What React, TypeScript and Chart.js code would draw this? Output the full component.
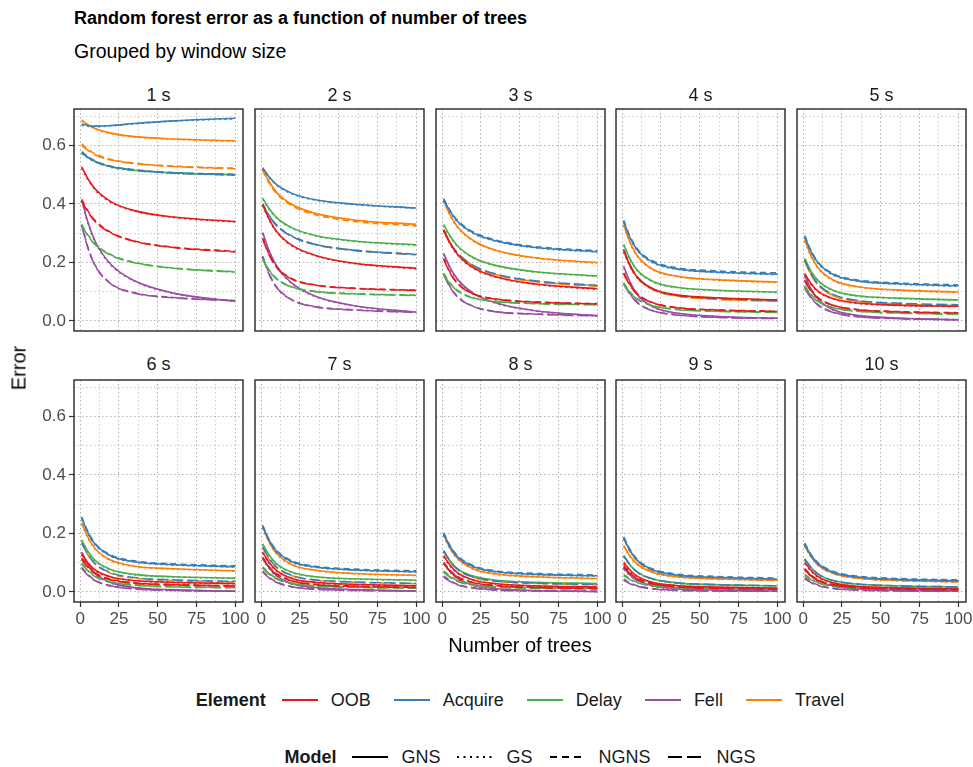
import React, { useEffect, useRef } from "react";
import { Chart, registerables } from "chart.js";

Chart.register(...registerables);

const FONT = '"Liberation Sans", Arial, Helvetica, sans-serif';

// ---------- data ----------
const treeCounts = [1, 5, 10, 20, 35, 60, 100];
const windowLabels = ["1 s", "2 s", "3 s", "4 s", "5 s", "6 s", "7 s", "8 s", "9 s", "10 s"];
const elements = ["OOB", "Acquire", "Delay", "Fell", "Travel"];
const elementColors = ["#E41A1C", "#377EB8", "#4DAF4A", "#984EA3", "#FF7F00"];
const models = ["GNS", "GS", "NGNS", "NGS"];
const yTicks = [0, 0.1, 0.2, 0.3, 0.4, 0.5, 0.6, 0.7];
const xTicks = [0, 12.5, 25, 37.5, 50, 62.5, 75, 87.5, 100];

// each window: OOB(GNS,GS,NGNS,NGS), Acquire(...), Delay(...), Fell(...), Travel(...)
const w1 = [
  [.527,.486,.449,.407,.377,.355,.340], [.522,.483,.446,.405,.376,.354,.338], [.415,.376,.341,.302,.273,.252,.238], [.410,.372,.338,.300,.272,.251,.236],
  [.673,.668,.666,.668,.675,.684,.693], [.668,.665,.664,.667,.674,.683,.691], [.579,.562,.546,.529,.517,.507,.501], [.575,.559,.544,.527,.515,.506,.499],
  [.576,.559,.544,.527,.515,.506,.500], [.572,.556,.542,.525,.514,.505,.498], [.329,.294,.261,.226,.200,.181,.168], [.325,.291,.259,.224,.199,.180,.167],
  [.415,.338,.269,.192,.137,.095,.067], [.410,.334,.266,.190,.136,.094,.066], [.330,.252,.187,.127,.096,.080,.070], [.326,.249,.185,.126,.095,.079,.069],
  [.687,.671,.657,.642,.630,.622,.616], [.684,.669,.655,.640,.629,.621,.614], [.605,.587,.570,.552,.539,.529,.522], [.600,.583,.567,.550,.538,.528,.520],
];
const w2 = [
  [.398,.350,.306,.258,.224,.197,.180], [.394,.347,.304,.256,.223,.196,.178], [.283,.230,.185,.144,.123,.112,.105], [.279,.227,.183,.142,.122,.111,.104],
  [.524,.494,.466,.436,.414,.399,.386], [.520,.491,.464,.434,.413,.398,.385], [.400,.362,.328,.290,.262,.242,.228], [.396,.359,.326,.288,.261,.241,.227],
  [.420,.385,.353,.318,.292,.273,.260], [.416,.382,.351,.316,.291,.272,.258], [.214,.176,.145,.116,.101,.093,.088], [.210,.173,.143,.115,.100,.092,.087],
  [.302,.242,.188,.128,.084,.052,.030], [.298,.239,.186,.127,.083,.051,.029], [.222,.164,.116,.072,.049,.038,.030], [.218,.161,.114,.071,.048,.037,.029],
  [.520,.478,.440,.398,.368,.345,.330], [.516,.475,.438,.396,.367,.344,.328], [.515,.473,.435,.393,.363,.340,.325], [.398,.360,.326,.288,.261,.241,.226],
];
const w3 = [
  [.311,.267,.227,.182,.150,.126,.110], [.307,.264,.225,.180,.149,.125,.108], [.214,.168,.129,.093,.075,.065,.059], [.210,.165,.127,.092,.074,.064,.058],
  [.415,.376,.340,.301,.273,.251,.237], [.411,.373,.338,.299,.272,.250,.235], [.418,.379,.343,.304,.276,.254,.240], [.311,.269,.232,.190,.160,.137,.122],
  [.329,.291,.256,.217,.189,.168,.154], [.325,.288,.254,.215,.188,.167,.152], [.162,.130,.104,.079,.067,.060,.056], [.158,.127,.102,.078,.066,.059,.055],
  [.231,.184,.142,.095,.061,.035,.018], [.227,.181,.140,.094,.060,.034,.017], [.162,.119,.083,.050,.032,.024,.018], [.158,.116,.081,.049,.031,.023,.017],
  [.410,.364,.321,.275,.241,.216,.199], [.406,.361,.319,.273,.240,.215,.197], [.311,.269,.231,.189,.158,.135,.120], [.307,.266,.229,.187,.157,.134,.118],
];
const w4 = [
  [.240,.190,.148,.109,.089,.079,.072], [.236,.187,.146,.108,.088,.078,.071], [.164,.125,.092,.062,.046,.038,.033], [.160,.122,.090,.061,.045,.037,.032],
  [.340,.286,.241,.200,.178,.167,.160], [.336,.283,.239,.198,.177,.166,.158], [.344,.290,.245,.204,.182,.171,.164], [.245,.193,.149,.109,.088,.077,.070],
  [.262,.213,.172,.135,.115,.105,.099], [.258,.210,.170,.133,.114,.104,.097], [.130,.100,.075,.052,.040,.034,.030], [.126,.097,.073,.051,.039,.033,.029],
  [.187,.134,.089,.048,.027,.016,.009], [.183,.131,.087,.047,.026,.015,.008], [.130,.094,.063,.035,.021,.013,.009], [.126,.091,.061,.034,.020,.012,.008],
  [.329,.270,.221,.176,.153,.141,.133], [.325,.267,.219,.174,.152,.140,.131], [.245,.192,.148,.107,.086,.075,.068], [.241,.189,.146,.106,.085,.074,.067],
];
const w5 = [
  [.162,.128,.100,.075,.061,.054,.050], [.158,.125,.098,.074,.060,.053,.049], [.140,.106,.078,.053,.039,.032,.028], [.136,.103,.076,.052,.038,.031,.027],
  [.289,.238,.196,.157,.137,.127,.120], [.285,.235,.194,.155,.136,.126,.118], [.292,.241,.199,.160,.140,.130,.123], [.208,.162,.124,.089,.070,.061,.055],
  [.214,.171,.136,.103,.086,.078,.072], [.210,.168,.134,.102,.085,.077,.071], [.120,.091,.067,.045,.034,.028,.024], [.116,.088,.065,.044,.033,.027,.023],
  [.156,.110,.072,.037,.019,.010,.004], [.152,.107,.070,.036,.018,.009,.004], [.116,.082,.054,.029,.015,.008,.004], [.112,.079,.052,.028,.014,.008,.004],
  [.277,.224,.179,.138,.117,.106,.099], [.273,.221,.177,.136,.116,.105,.097], [.208,.161,.122,.086,.068,.058,.052], [.204,.158,.120,.085,.067,.057,.051],
];
const w6 = [
  [.130,.100,.074,.051,.039,.033,.029], [.126,.097,.072,.050,.038,.032,.028], [.116,.088,.064,.043,.031,.025,.021], [.112,.084,.061,.041,.030,.024,.020],
  [.253,.203,.161,.123,.103,.093,.086], [.249,.200,.159,.121,.102,.092,.085], [.256,.206,.164,.126,.106,.096,.089], [.167,.128,.095,.065,.049,.041,.036],
  [.178,.139,.106,.076,.060,.052,.047], [.174,.136,.104,.075,.059,.051,.046], [.100,.075,.053,.034,.024,.018,.015], [.096,.072,.051,.033,.023,.017,.014],
  [.136,.096,.062,.031,.015,.007,.002], [.132,.093,.060,.030,.014,.006,.002], [.084,.060,.039,.021,.011,.006,.003], [.080,.057,.037,.020,.010,.005,.003],
  [.236,.187,.146,.108,.088,.079,.072], [.232,.184,.144,.106,.087,.078,.071], [.167,.127,.094,.063,.047,.039,.034], [.114,.086,.062,.041,.029,.024,.020],
];
const w7 = [
  [.136,.102,.073,.046,.033,.026,.021], [.132,.099,.071,.045,.032,.025,.020], [.118,.087,.062,.038,.026,.020,.016], [.114,.084,.060,.037,.025,.019,.015],
  [.225,.178,.139,.103,.085,.075,.069], [.221,.175,.137,.101,.084,.074,.068], [.228,.181,.142,.106,.088,.078,.072], [.153,.116,.085,.056,.041,.034,.029],
  [.164,.127,.096,.067,.052,.045,.040], [.160,.124,.094,.066,.051,.044,.039], [.086,.065,.047,.030,.021,.017,.014], [.082,.061,.044,.028,.020,.016,.013],
  [.118,.084,.055,.028,.015,.008,.003], [.114,.081,.053,.027,.014,.007,.003], [.072,.051,.034,.018,.010,.006,.003], [.068,.048,.032,.017,.009,.005,.003],
  [.222,.173,.131,.093,.074,.063,.057], [.218,.170,.129,.092,.073,.062,.056], [.150,.113,.083,.055,.040,.033,.028], [.084,.063,.045,.029,.020,.016,.013],
];
const w8 = [
  [.124,.092,.065,.041,.028,.021,.017], [.120,.089,.063,.040,.027,.020,.016], [.100,.074,.052,.032,.022,.016,.013], [.096,.071,.050,.031,.021,.015,.012],
  [.199,.156,.120,.087,.069,.060,.055], [.195,.153,.118,.085,.068,.059,.054], [.202,.159,.123,.090,.072,.063,.058], [.141,.106,.077,.051,.037,.030,.025],
  [.141,.107,.079,.054,.040,.033,.029], [.137,.104,.077,.053,.039,.032,.028], [.072,.054,.039,.025,.018,.014,.012], [.068,.050,.036,.023,.016,.012,.010],
  [.101,.071,.046,.023,.011,.005,.001], [.097,.068,.044,.022,.010,.004,.001], [.055,.039,.026,.014,.007,.004,.002], [.051,.036,.024,.013,.006,.003,.002],
  [.196,.151,.114,.079,.061,.052,.046], [.192,.148,.112,.078,.060,.051,.045], [.138,.104,.076,.050,.036,.029,.024], [.070,.052,.038,.024,.017,.013,.011],
];
const w9 = [
  [.101,.075,.053,.032,.022,.017,.013], [.097,.072,.051,.031,.021,.016,.012], [.090,.066,.046,.028,.018,.013,.010], [.086,.063,.044,.027,.017,.012,.009],
  [.185,.143,.107,.075,.058,.050,.044], [.181,.140,.105,.073,.057,.049,.043], [.188,.146,.110,.078,.061,.053,.047], [.124,.093,.067,.044,.031,.025,.021],
  [.124,.093,.067,.044,.031,.025,.021], [.120,.090,.065,.043,.030,.024,.020], [.060,.045,.033,.021,.015,.012,.010], [.056,.042,.031,.020,.014,.011,.009],
  [.082,.058,.039,.020,.011,.006,.003], [.078,.055,.037,.019,.010,.005,.003], [.044,.031,.021,.011,.006,.004,.002], [.040,.028,.019,.010,.005,.003,.002],
  [.159,.123,.094,.066,.052,.045,.040], [.155,.120,.092,.065,.051,.044,.039], [.182,.139,.104,.071,.054,.046,.040], [.082,.060,.042,.026,.017,.013,.010],
];
const w10 = [
  [.101,.074,.051,.030,.019,.014,.010], [.097,.071,.049,.029,.018,.013,.009], [.080,.058,.040,.024,.015,.011,.008], [.076,.055,.038,.023,.014,.010,.007],
  [.164,.126,.095,.066,.051,.043,.038], [.160,.123,.093,.065,.050,.042,.037], [.167,.129,.098,.069,.054,.046,.041], [.113,.084,.060,.038,.027,.021,.017],
  [.113,.084,.060,.038,.027,.021,.017], [.109,.081,.058,.037,.026,.020,.016], [.060,.045,.032,.020,.014,.011,.009], [.056,.042,.030,.019,.013,.010,.008],
  [.078,.056,.037,.020,.011,.006,.003], [.074,.053,.035,.019,.010,.005,.003], [.049,.035,.023,.012,.007,.004,.002], [.045,.032,.021,.011,.006,.003,.002],
  [.160,.123,.091,.063,.048,.040,.035], [.156,.120,.089,.062,.047,.039,.034], [.158,.121,.090,.062,.047,.039,.034], [.075,.056,.039,.024,.017,.013,.010],
];
const windows = [w1, w2, w3, w4, w5, w6, w7, w8, w9, w10];

// ---------- styling ----------
const modelDash: number[][] = [[], [2, 3.5], [6, 4], [11, 4]];
const legendDash = ["", "2 4.5", "7 5", "14 5"];
const PANEL_LEFTS = [74, 255, 436, 616, 797];
const PANEL_TOPS = [109, 380];
const PW = 169;
const PH = 222;

const boxPlugin = {
  id: "panelBox",
  afterDatasetsDraw(chart: any) {
    const { ctx, chartArea: a } = chart;
    ctx.save();
    ctx.strokeStyle = "#262626";
    ctx.lineWidth = 1.4;
    ctx.strokeRect(a.left, a.top, a.right - a.left, a.bottom - a.top);
    ctx.restore();
  },
};

function Panel({ index }: { index: number }) {
  const ref = useRef<HTMLCanvasElement | null>(null);
  const col = index % 5;
  const row = Math.floor(index / 5);
  const lp = col === 0 ? 62 : 8;
  const rp = 14;
  const tp = 14;
  const bp = row === 1 ? 36 : 14;
  const cw = lp + PW + rp;
  const ch = tp + PH + bp;

  useEffect(() => {
    const data = windows[index];
    const datasets: any[] = [];
    elements.forEach((el, e) => {
      models.forEach((m, k) => {
        const vals = data[e * 4 + k];
        datasets.push({
          label: el + " " + m,
          data: treeCounts.map((x, i) => ({ x, y: vals[i] })),
          borderColor: elementColors[e],
          borderWidth: 1.6,
          borderDash: modelDash[k],
          pointRadius: 0,
          cubicInterpolationMode: "monotone",
          fill: false,
        });
      });
    });
    const gridColor = (c: any) => (c.index % 2 === 0 ? "#b0b0b0" : "#cccccc");
    const tickColor = (c: any) => (c.index % 2 === 0 ? "#333333" : "rgba(0,0,0,0)");
    const chart = new Chart(ref.current as HTMLCanvasElement, {
      type: "line",
      data: { datasets },
      options: {
        animation: false,
        responsive: false,
        devicePixelRatio: 1,
        layout: { padding: { left: 0, right: rp, top: tp, bottom: 0 } },
        plugins: { legend: { display: false }, tooltip: { enabled: false } },
        scales: {
          x: {
            type: "linear",
            min: -3.95,
            max: 104.95,
            afterBuildTicks: (s: any) => {
              s.ticks = xTicks.map((v) => ({ value: v }));
            },
            afterFit: (s: any) => {
              s.height = bp;
            },
            grid: { color: gridColor, lineWidth: 1, drawTicks: row === 1, tickLength: 5, tickColor, tickWidth: 1.2 },
            border: { display: false, dash: [1.5, 2.5] },
            ticks: {
              display: row === 1,
              autoSkip: false,
              maxRotation: 0,
              padding: 2,
              color: "#4d4d4d",
              font: { family: FONT, size: 17 },
              callback: (_v: any, i: number) => (i % 2 === 0 ? String(xTicks[i]) : ""),
            },
          },
          y: {
            type: "linear",
            min: -0.0345,
            max: 0.7245,
            afterBuildTicks: (s: any) => {
              s.ticks = yTicks.map((v) => ({ value: v }));
            },
            afterFit: (s: any) => {
              s.width = lp;
            },
            grid: { color: gridColor, lineWidth: 1, drawTicks: col === 0, tickLength: 5, tickColor, tickWidth: 1.2 },
            border: { display: false, dash: [1.5, 2.5] },
            ticks: {
              display: col === 0,
              autoSkip: false,
              padding: 3,
              color: "#4d4d4d",
              font: { family: FONT, size: 17 },
              callback: (_v: any, i: number) => (i % 2 === 0 ? yTicks[i].toFixed(1) : ""),
            },
          },
        },
      } as any,
      plugins: [boxPlugin],
    });
    return () => chart.destroy();
  }, [index]);

  const boxLeft = PANEL_LEFTS[col];
  const boxTop = PANEL_TOPS[row];
  return (
    <>
      <div
        style={{
          position: "absolute",
          left: boxLeft,
          top: row === 0 ? 86 : 355,
          width: PW,
          textAlign: "center",
          fontFamily: FONT,
          fontSize: 18,
          lineHeight: "18px",
          color: "#1a1a1a",
        }}
      >
        {windowLabels[index]}
      </div>
      <canvas
        ref={ref}
        width={cw}
        height={ch}
        style={{ position: "absolute", left: boxLeft - lp, top: boxTop - tp, width: cw, height: ch }}
      />
    </>
  );
}

function Key({ color, dash }: { color: string; dash: string }) {
  return (
    <svg width={38} height={20} style={{ display: "block" }}>
      <line x1={1} y1={10} x2={37} y2={10} stroke={color} strokeWidth={2.2} strokeDasharray={dash || undefined} />
    </svg>
  );
}

function LegendRow({ title, labels, colors, dashes, top, gap }: { title: string; labels: string[]; colors: string[]; dashes: string[]; top: number; gap: number }) {
  return (
    <div
      style={{
        position: "absolute",
        left: 74,
        width: 892,
        top,
        height: 24,
        display: "flex",
        justifyContent: "center",
        alignItems: "center",
        fontFamily: FONT,
        fontSize: 18,
        color: "#1a1a1a",
      }}
    >
      <span style={{ fontWeight: "bold", marginRight: 15 }}>{title}</span>
      {labels.map((lab, i) => (
        <div key={lab} style={{ display: "flex", alignItems: "center", marginRight: i < labels.length - 1 ? gap : 0 }}>
          <Key color={colors[i]} dash={dashes[i]} />
          <span style={{ marginLeft: 12 }}>{lab}</span>
        </div>
      ))}
    </div>
  );
}

export default function App() {
  return (
    <div style={{ position: "absolute", left: 0, top: 0, width: 973, height: 767, background: "#ffffff", overflow: "hidden" }}>
      <div style={{ position: "absolute", left: 74, top: 8, fontFamily: FONT, fontSize: 18, fontWeight: "bold", lineHeight: "21px", color: "#000", whiteSpace: "nowrap" }}>
        Random forest error as a function of number of trees
      </div>
      <div style={{ position: "absolute", left: 74, top: 40, fontFamily: FONT, fontSize: 19.5, lineHeight: "22px", color: "#000", whiteSpace: "nowrap" }}>
        Grouped by window size
      </div>
      {windowLabels.map((_, i) => (
        <Panel key={i} index={i} />
      ))}
      <div
        style={{
          position: "absolute",
          left: 19,
          top: 368,
          transform: "translate(-50%, -50%) rotate(-90deg)",
          fontFamily: FONT,
          fontSize: 20,
          color: "#000",
          whiteSpace: "nowrap",
        }}
      >
        Error
      </div>
      <div style={{ position: "absolute", left: 74, width: 892, top: 634, textAlign: "center", fontFamily: FONT, fontSize: 20, lineHeight: "22px", color: "#000" }}>
        Number of trees
      </div>
      <LegendRow title="Element" labels={elements} colors={elementColors} dashes={["", "", "", "", ""]} top={688} gap={22} />
      <LegendRow title="Model" labels={models} colors={["#000", "#000", "#000", "#000"]} dashes={legendDash} top={745} gap={16} />
    </div>
  );
}
